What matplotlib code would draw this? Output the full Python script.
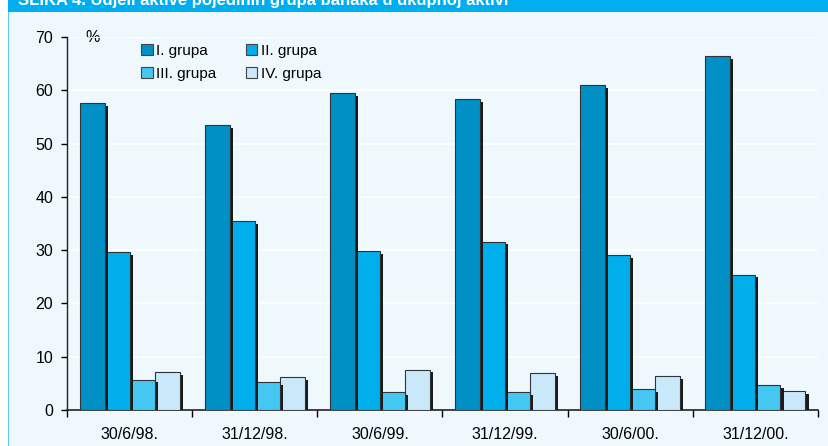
import matplotlib
matplotlib.use("Agg")
import matplotlib.pyplot as plt
import matplotlib.patheffects as pe
from matplotlib.patches import Rectangle
import numpy as np

categories = ["30/6/98.", "31/12/98.", "30/6/99.", "31/12/99.", "30/6/00.", "31/12/00."]
series_names = ["I. grupa", "II. grupa", "III. grupa", "IV. grupa"]
grupa1 = [57.6, 53.4, 59.4, 58.3, 60.9, 66.4]
grupa2 = [29.6, 35.4, 29.8, 31.6, 29.0, 25.4]
grupa3 = [5.7, 5.2, 3.4, 3.3, 3.9, 4.6]
grupa4 = [7.1, 6.1, 7.6, 6.9, 6.3, 3.6]
yticks = [0, 10, 20, 30, 40, 50, 60, 70]
title = "SLIKA 4. Udjeli aktive pojedinih grupa banaka u ukupnoj aktivi"

colors = ["#0090C5", "#00AEEC", "#45C7F3", "#C9E9FA"]
bg = "#EEF8FD"
W, H = 829, 446

plt.rcParams['font.family'] = ['Liberation Sans', 'DejaVu Sans']
fig = plt.figure(figsize=(W / 100, H / 100), dpi=100)
fig.patch.set_facecolor("white")

# background panel
fig.patches.append(Rectangle((9 / W, 0), 1 - 9 / W, 1, transform=fig.transFigure,
                             facecolor=bg, edgecolor="none", zorder=-3))
fig.patches.append(Rectangle((8 / W, 0), 1.5 / W, 1, transform=fig.transFigure,
                             facecolor="#5BC8F0", edgecolor="none", zorder=-2))
fig.patches.append(Rectangle((8 / W, 1 - 12 / H), 1, 12 / H, transform=fig.transFigure,
                             facecolor="#00AEEF", edgecolor="none", zorder=-1))
fig.text(18 / W, 1 - 5 / H, title, color="white", fontsize=12, fontweight="bold",
         va="baseline", ha="left", zorder=2)

ax = fig.add_axes([67 / W, 1 - 410 / H, (818 - 67) / W, (410 - 37) / H])
ax.set_zorder(5)
ax.patch.set_alpha(0)

x = np.arange(len(categories))
bw = 0.2
data = [grupa1, grupa2, grupa3, grupa4]
shadow = [pe.SimplePatchShadow(offset=(2.2, -2.0), shadow_rgbFace="#1a1a1a", alpha=1.0), pe.Normal()]
handles = []
for i, (vals, c, name) in enumerate(zip(data, colors, series_names)):
    b = ax.bar(x - 0.5 + 0.1 + bw * i, vals, width=bw, align="edge", color=c,
               edgecolor="#333333", linewidth=0.8, label=name, zorder=3 + (3 - i) * 0.01,
               path_effects=shadow)
    handles.append(b)

ax.set_xlim(-0.5, len(categories) - 0.5)
ax.set_ylim(0, 70)
ax.set_yticks(yticks)
for t in yticks[1:]:
    ax.axhline(t, color="white", linewidth=1.2, zorder=1)
ax.tick_params(axis="y", direction="out", length=4, width=1, labelsize=11.5, pad=6)
ax.set_xticks(x)
ax.set_xticklabels(categories, fontsize=11.5)
ax.tick_params(axis="x", length=0, pad=12)
ax.set_xticks(np.arange(len(categories) + 1) - 0.5, minor=True)
ax.tick_params(axis="x", which="minor", direction="out", length=5, width=1)
for s in ["top", "right"]:
    ax.spines[s].set_visible(False)
ax.spines["left"].set_linewidth(1)
ax.spines["bottom"].set_linewidth(1.2)
ax.spines["left"].set_color("#222222")
ax.spines["bottom"].set_color("#222222")

fig.text(93 / W, 1 - 37 / H, "%", fontsize=11.5, ha="center", va="center")

order = [0, 2, 1, 3]
leg = fig.legend([handles[k] for k in order], [series_names[k] for k in order],
                 loc="upper left", bbox_to_anchor=(135 / W, 1 - 38 / H), ncol=2,
                 frameon=False, fontsize=11, handlelength=0.75, handleheight=0.75,
                 handletextpad=0.25, columnspacing=1.9, labelspacing=0.55,
                 borderaxespad=0)
leg.set_zorder(6)
for h in leg.legend_handles:
    h.set_path_effects([])
    h.set_edgecolor("#444444")

fig.savefig("out.png", dpi=100, facecolor=fig.get_facecolor())
